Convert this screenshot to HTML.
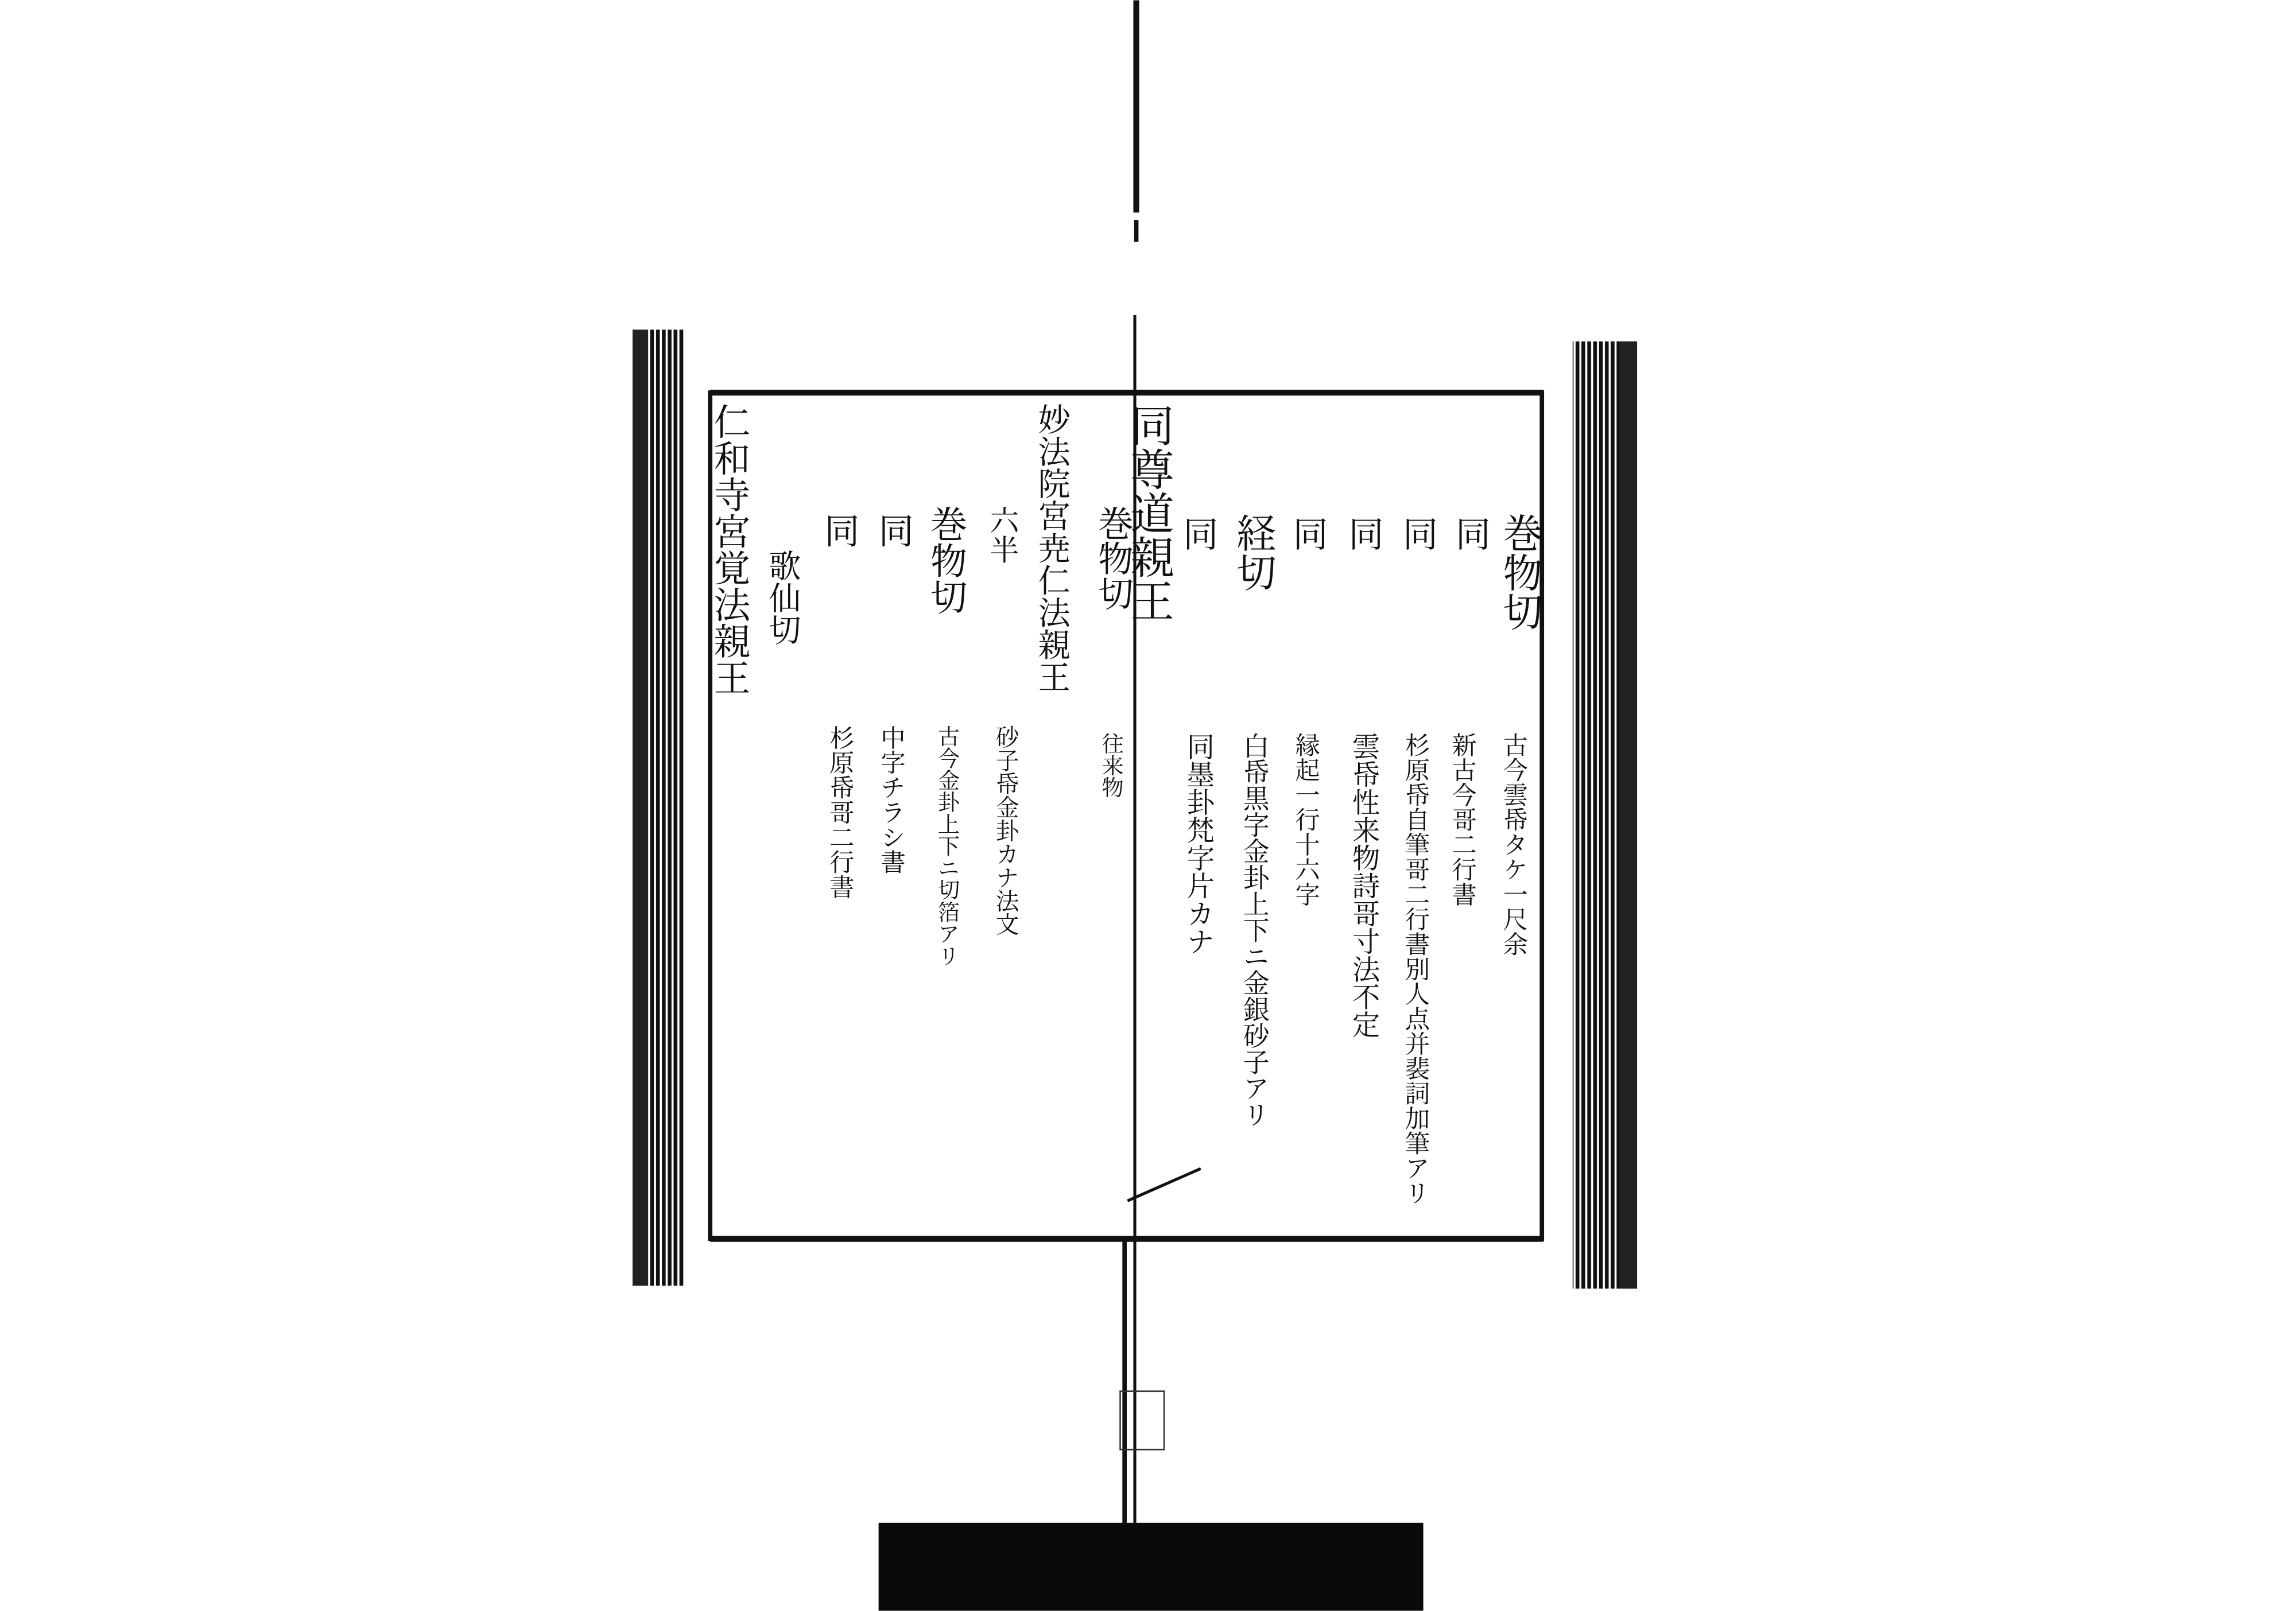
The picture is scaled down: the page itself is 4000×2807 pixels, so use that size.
<!DOCTYPE html>
<html><head><meta charset="utf-8"><style>
html,body{margin:0;padding:0;background:#fff;}
svg{display:block}
text{font-family:"Noto Serif CJK JP","Noto Sans CJK JP",serif;fill:#111;writing-mode:vertical-rl;}
</style></head><body>
<svg width="4000" height="2807" viewBox="0 0 1568 1100" xmlns="http://www.w3.org/2000/svg">
<defs>
<pattern id="st" width="4" height="10" patternUnits="userSpaceOnUse">
<rect width="4" height="10" fill="#fff"/><rect width="2.6" height="10" fill="#111"/>
</pattern>
</defs>
<rect width="1568" height="1100" fill="#fff"/>
<!-- book edges -->
<rect x="432" y="225" width="36" height="653" fill="url(#st)"/>
<rect x="432" y="225" width="10" height="653" fill="#222"/>
<rect x="1074" y="233" width="44" height="647" fill="url(#st)"/>
<rect x="1106" y="233" width="12" height="647" fill="#222"/>
<!-- frame -->
<rect x="485" y="268" width="568" height="578" fill="none" stroke="#111" stroke-width="3"/>
<line x1="485" y1="268" x2="1054" y2="268" stroke="#111" stroke-width="4"/>
<line x1="485" y1="846" x2="1054" y2="846" stroke="#111" stroke-width="4"/>
<!-- center line -->
<line x1="776" y1="0" x2="776" y2="145" stroke="#111" stroke-width="4"/>
<line x1="776" y1="150" x2="776" y2="165" stroke="#111" stroke-width="3"/>
<line x1="775" y1="215" x2="775" y2="1100" stroke="#111" stroke-width="2"/>
<line x1="768" y1="845" x2="768" y2="1100" stroke="#111" stroke-width="3"/>
<path d="M770 820 L820 798" stroke="#111" stroke-width="2" fill="none"/>
<rect x="765" y="950" width="30" height="40" fill="none" stroke="#333" stroke-width="1"/>
<!-- bottom block -->
<rect x="600" y="1040" width="372" height="60" fill="#0a0a0a"/>
<!-- right page text -->
<text x="1040" y="350" font-size="27">巻物切</text>
<text x="1035" y="500" font-size="17">古今雲帋タケ一尺余</text>
<text x="1006" y="352" font-size="24">同</text>
<text x="1000" y="500" font-size="17">新古今哥二行書</text>
<text x="970" y="352" font-size="24">同</text>
<text x="968" y="500" font-size="17">杉原帋自筆哥二行書別人点并裴詞加筆アリ</text>
<text x="933" y="352" font-size="24">同</text>
<text x="933" y="500" font-size="19">雲帋性来物詩哥寸法不定</text>
<text x="895" y="352" font-size="24">同</text>
<text x="893" y="500" font-size="17">縁起一行十六字</text>
<text x="858" y="350" font-size="27">経切</text>
<text x="858" y="500" font-size="18">白帋黒字金卦上下ニ金銀砂子アリ</text>
<text x="820" y="352" font-size="24">同</text>
<text x="820" y="500" font-size="19">同墨卦梵字片カナ</text>
<text x="787" y="275" font-size="30">同尊道親王</text>
<text x="762" y="345" font-size="24">巻物切</text>
<text x="760" y="500" font-size="15">往来物</text>
<!-- left page text -->
<text x="720" y="275" font-size="22">妙法院宮尭仁法親王</text>
<text x="686" y="345" font-size="20">六半</text>
<text x="688" y="495" font-size="16">砂子帋金卦カナ法文</text>
<text x="648" y="345" font-size="25">巻物切</text>
<text x="648" y="495" font-size="15">古今金卦上下ニ切箔アリ</text>
<text x="612" y="350" font-size="24">同</text>
<text x="610" y="495" font-size="17">中字チラシ書</text>
<text x="575" y="350" font-size="24">同</text>
<text x="575" y="495" font-size="17">杉原帋哥二行書</text>
<text x="536" y="375" font-size="22">歌仙切</text>
<text x="500" y="275" font-size="25">仁和寺宮覚法親王</text>
</svg>
</body></html>
